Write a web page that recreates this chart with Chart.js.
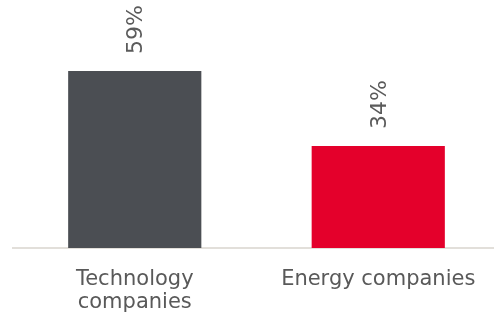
<!DOCTYPE html>
<html>
<head>
<meta charset="utf-8">
<script src="https://cdn.jsdelivr.net/npm/chart.js@4/dist/chart.umd.min.js"></script>
<style>
  html, body { margin: 0; padding: 0; background: #fff; overflow: hidden; }
  .chartBox { width: 500px; height: 317px; }
</style>
</head>
<body>
<div class="chartBox">
  <canvas id="myChart"></canvas>
</div>
<script>
const categories = [['Technology', 'companies'], 'Energy companies'];
const shares = [59, 34];
const barColors = ['#4b4e53', '#e4002b'];

// draws the rotated "59%" labels above each bar
const valueLabels = {
  id: 'valueLabels',
  afterDatasetsDraw(chart) {
    const ctx = chart.ctx;
    const meta = chart.getDatasetMeta(0);
    ctx.save();
    ctx.font = '22px "DejaVu Sans"';
    ctx.fillStyle = '#5b5b5b';
    ctx.textAlign = 'left';
    ctx.textBaseline = 'middle';
    meta.data.forEach((bar, i) => {
      ctx.save();
      ctx.translate(bar.x + 2, bar.y - 17);
      ctx.rotate(-Math.PI / 2);
      ctx.fillText(shares[i] + '%', 0, 0);
      ctx.restore();
    });
    ctx.restore();
  }
};

const data = {
  labels: categories,
  datasets: [
    {
      label: 'Share',
      data: shares,
      backgroundColor: barColors,
      borderWidth: 0,
      barPercentage: 0.547,
      categoryPercentage: 1,
    },
  ],
};

const config = {
  type: 'bar',
  data,
  options: {
    responsive: true,
    maintainAspectRatio: false,
    animation: false,
    layout: { padding: { top: 8, left: 13, right: 0, bottom: 0 } },
    plugins: { legend: { display: false }, tooltip: { enabled: false } },
    scales: {
      x: {
        grid: { display: false },
        border: { display: true, color: '#e2dfda', width: 2 },
        ticks: {
          color: '#595959',
          font: { family: 'DejaVu Sans', size: 21, lineHeight: 1.1 },
          padding: 12,
          maxRotation: 0,
          autoSkip: false,
        },
        afterFit: (s) => { s.height = 69; },
      },
      y: {
        display: false,
        min: 0,
        max: 80,
      },
    },
  },
  plugins: [valueLabels],
};

new Chart(document.getElementById('myChart'), config);
</script>
</body>
</html>
